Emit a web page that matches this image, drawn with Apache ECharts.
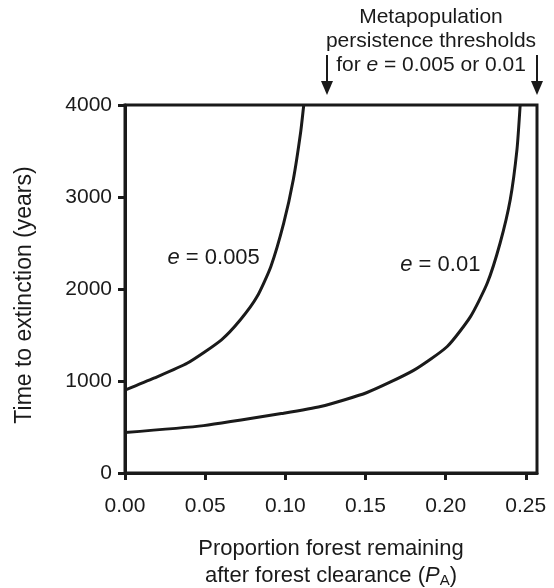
<!DOCTYPE html>
<html>
<head>
<meta charset="utf-8">
<script src="https://cdn.jsdelivr.net/npm/echarts@6/dist/echarts.min.js"></script>
<style>html,body{margin:0;padding:0;background:#fff;}#c{width:554px;height:588px;}</style>
</head>
<body>
<div id="c"></div>
<script>
const xTicks = [0, 0.05, 0.10, 0.15, 0.20, 0.25];
const yTicks = [0, 1000, 2000, 3000, 4000];
const pA_e005 = [0, 0.018, 0.039, 0.060, 0.072, 0.0825, 0.091, 0.099, 0.105, 0.1095, 0.1115];
const t_e005  = [900, 1030, 1195, 1445, 1665, 1920, 2245, 2715, 3190, 3695, 4000];
const pA_e01  = [0, 0.049, 0.099, 0.122, 0.151, 0.180, 0.201, 0.2155, 0.226, 0.234, 0.2403, 0.2445, 0.2465];
const t_e01   = [440, 515, 650, 722, 875, 1115, 1375, 1700, 2065, 2500, 2970, 3515, 4000];
const thresholds = [0.126, 0.257];
const curveLabels = [
  {x: 0.0553, y: 2340, val: '0.005'},
  {x: 0.1967, y: 2263, val: '0.01'}
];
const FONT = '"Liberation Sans", Arial, sans-serif';
const INK = '#1a1a1a';

const chart = echarts.init(document.getElementById('c'), null, {renderer: 'canvas'});
const zip = (a, b) => a.map((v, i) => [v, b[i]]);

const lineSeries = (name, data) => ({
  name, type: 'line', data, showSymbol: false, symbol: 'none',
  smooth: 0.2, clip: true,
  lineStyle: {color: INK, width: 3}
});

chart.setOption({
  animation: false,
  textStyle: {fontFamily: FONT},
  grid: {left: 125, right: 17, top: 105, bottom: 115, show: true, borderColor: INK, borderWidth: 3,
         containLabel: false, outerBoundsMode: 'none'},
  xAxis: {
    type: 'value', min: 0, max: 0.257,
    splitLine: {show: false},
    axisLine: {show: true, onZero: false, lineStyle: {color: INK, width: 3}},
    axisTick: {show: true, inside: false, length: 7, lineStyle: {color: INK, width: 3}, customValues: xTicks},
    axisLabel: {customValues: xTicks, formatter: v => v.toFixed(2), color: INK, fontSize: 21, margin: 23, fontFamily: FONT},
    name: '{a|Proportion forest remaining}\n{a|after forest clearance (}{i|P}{s|A}{a|)}',
    nameLocation: 'middle', nameGap: 62,
    nameTextStyle: {
      fontFamily: FONT, color: INK, lineHeight: 27,
      rich: {
        a: {fontSize: 22, fontFamily: FONT, color: INK, lineHeight: 27},
        i: {fontSize: 22, fontStyle: 'italic', fontFamily: FONT, color: INK, lineHeight: 27},
        s: {fontSize: 15, fontFamily: FONT, color: INK, padding: [10, 0, 0, 0], lineHeight: 27}
      }
    }
  },
  yAxis: {
    type: 'value', min: 0, max: 4000, interval: 1000,
    splitLine: {show: false},
    axisLine: {show: true, lineStyle: {color: INK, width: 3}},
    axisTick: {show: true, inside: false, length: 7, lineStyle: {color: INK, width: 3}, customValues: yTicks},
    axisLabel: {customValues: yTicks, formatter: v => String(v), color: INK, fontSize: 21, margin: 13, fontFamily: FONT}
  },
  series: [
    lineSeries('e = 0.005', zip(pA_e005, t_e005)),
    lineSeries('e = 0.01', zip(pA_e01, t_e01))
  ]
});

const gfx = [];
const rich = {
  i: {fontStyle: 'italic', fontSize: 22, fontFamily: FONT, fill: INK},
  a: {fontSize: 22, fontFamily: FONT, fill: INK}
};
const richTop = {
  i: {fontStyle: 'italic', fontSize: 21, fontFamily: FONT, fill: INK},
  a: {fontSize: 21, fontFamily: FONT, fill: INK}
};
curveLabels.forEach(l => {
  const p = chart.convertToPixel({gridIndex: 0}, [l.x, l.y]);
  gfx.push({type: 'text', x: p[0], y: p[1],
    style: {text: '{i|e}{a| = ' + l.val + '}', rich, align: 'center', verticalAlign: 'middle', font: '22px ' + FONT}});
});
thresholds.forEach(t => {
  const px = chart.convertToPixel({xAxisIndex: 0}, t);
  gfx.push({type: 'line', shape: {x1: px, y1: 55, x2: px, y2: 84}, style: {stroke: INK, lineWidth: 2}});
  gfx.push({type: 'polygon', shape: {points: [[px - 6, 81], [px + 6, 81], [px, 95]]}, style: {fill: INK}});
});
gfx.push({type: 'text', x: 25, y: 295, rotation: Math.PI / 2,
  style: {text: 'Time to extinction (years)', font: '23px ' + FONT, fill: INK, align: 'center', verticalAlign: 'middle'}});
gfx.push({type: 'text', x: 431, y: 17, style: {text: 'Metapopulation', font: '21px ' + FONT, fill: INK, align: 'center', verticalAlign: 'middle'}});
gfx.push({type: 'text', x: 431, y: 41, style: {text: 'persistence thresholds', font: '21px ' + FONT, fill: INK, align: 'center', verticalAlign: 'middle'}});
gfx.push({type: 'text', x: 431, y: 65, style: {text: '{a|for }{i|e}{a| = 0.005 or 0.01}', rich: richTop, align: 'center', verticalAlign: 'middle', font: '21px ' + FONT}});
chart.setOption({graphic: gfx});
</script>
</body>
</html>
